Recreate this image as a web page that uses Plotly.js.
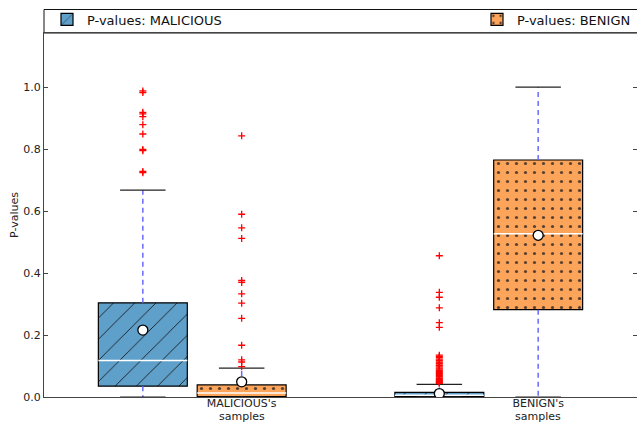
<!DOCTYPE html>
<html><head><meta charset="utf-8">
<script src="https://cdn.plot.ly/plotly-3.0.1.min.js"></script>
<style>body{margin:0;padding:0;background:#fff}#chart{width:637px;height:423px}</style>
</head><body><div id="chart"></div>
<script>
// ---- data ----
const groups = ["MALICIOUS's<br>samples", "BENIGN's<br>samples"];
const seriesNames = ["P-values: MALICIOUS", "P-values: BENIGN"];
// series 1: P-values MALICIOUS, per group
const malQ1 = [0.035, 0.002];
const malMedian = [0.118, 0.006];
const malQ3 = [0.304, 0.015];
const malLow = [0.0, 0.0];
const malHigh = [0.668, 0.041];
const malMean = [0.216, 0.011];
const malOutliers = [
  [0.724, 0.728, 0.795, 0.799, 0.849, 0.879, 0.905, 0.914, 0.919, 0.983, 0.988],
  [0.456, 0.338, 0.322, 0.288, 0.240, 0.225, 0.135, 0.131, 0.127, 0.122, 0.118, 0.113, 0.109,
   0.104, 0.101, 0.097, 0.093, 0.090, 0.086, 0.083, 0.079, 0.076, 0.072, 0.069, 0.066, 0.062,
   0.059, 0.056, 0.053, 0.050, 0.048, 0.046, 0.044]
];
// series 2: P-values BENIGN, per group
const benQ1 = [0.001, 0.282];
const benMedian = [0.013, 0.527];
const benQ3 = [0.039, 0.765];
const benLow = [0.0, 0.0];
const benHigh = [0.093, 1.0];
const benMean = [0.049, 0.522];
const benOutliers = [
  [0.843, 0.590, 0.546, 0.512, 0.376, 0.370, 0.333, 0.303, 0.254, 0.167, 0.120, 0.113, 0.098],
  []
];

// ---- build ----
const series = [
  {name: seriesNames[0], q1: malQ1, med: malMedian, q3: malQ3, lo: malLow, hi: malHigh, mean: malMean, out: malOutliers,
   color: '#5fa0cb', legend: 'legend',
   pattern: {shape: '/', size: 15, solidity: 0.06, fgcolor: '#1a1a1a', bgcolor: '#5fa0cb', fillmode: 'replace'}},
  {name: seriesNames[1], q1: benQ1, med: benMedian, q3: benQ3, lo: benLow, hi: benHigh, mean: benMean, out: benOutliers,
   color: '#fca55a', legend: 'legend2',
   pattern: {shape: '.', size: 9, solidity: 0.1, fgcolor: '#5a4030', bgcolor: '#fca55a', fillmode: 'replace'}}
];
const boxW = 0.9, capHalf = 0.23;
const pos = (g, s) => 3 * g + s + 1;
const traces = [];
series.forEach((s, si) => {
  const xs = groups.map((_, g) => pos(g, si));
  traces.push({type: 'bar', name: s.name, legend: s.legend, x: xs, base: s.q1, y: s.q3.map((v, i) => v - s.q1[i]),
    width: boxW, marker: {color: s.color, pattern: s.pattern, line: {color: '#000', width: 1.2}},
    hoverinfo: 'skip'});
});
const wx = [], wy = [], cx = [], cy = [], mx = [], my = [], ox = [], oy = [], ax = [], ay = [];
series.forEach((s, si) => {
  groups.forEach((_, g) => {
    const x = pos(g, si);
    wx.push(x, x, null, x, x, null); wy.push(s.q3[g], s.hi[g], null, s.q1[g], s.lo[g], null);
    cx.push(x - capHalf, x + capHalf, null, x - capHalf, x + capHalf, null);
    cy.push(s.hi[g], s.hi[g], null, s.lo[g], s.lo[g], null);
    mx.push(x - boxW / 2, x + boxW / 2, null); my.push(s.med[g], s.med[g], null);
    ax.push(x); ay.push(s.mean[g]);
    s.out[g].forEach(v => { ox.push(x); oy.push(v); });
  });
});
traces.push({type: 'scatter', mode: 'lines', x: wx, y: wy, showlegend: false, hoverinfo: 'skip',
  line: {color: '#6a6aff', width: 1.5, dash: '5px,4px'}});
traces.push({type: 'scatter', mode: 'lines', x: mx, y: my, showlegend: false, hoverinfo: 'skip',
  line: {color: '#ffffff', width: 1.5}});
traces.push({type: 'scatter', mode: 'lines', x: cx, y: cy, showlegend: false, hoverinfo: 'skip',
  line: {color: '#222', width: 1.2}});
traces.push({type: 'scatter', mode: 'markers', x: ox, y: oy, showlegend: false, hoverinfo: 'skip',
  marker: {symbol: 'cross-thin', size: 5, line: {color: '#ff0000', width: 1.3}, color: '#ff0000'}});
traces.push({type: 'scatter', mode: 'markers', x: ax, y: ay, showlegend: false, hoverinfo: 'skip',
  marker: {symbol: 'circle', size: 10, color: '#ffffff', line: {color: '#000', width: 1.3}}});

// tick labels: first line on the axis, second line as text right below it
const tickFirst = groups.map(t => t.split('<br>')[0]);
const tickSecond = groups.map(t => t.split('<br>')[1]);
const annotations = tickSecond.map((t, g) => ({text: t, x: pos(g, 1), xref: 'x', y: (397 - 416.5) / 364, yref: 'paper',
  xanchor: 'center', yanchor: 'middle', showarrow: false, font: {size: 11, color: '#222'}}));

const legendCommon = {orientation: 'h', yanchor: 'middle', y: 1 + (33 - 19.5) / 364, xanchor: 'left',
  bgcolor: 'rgba(0,0,0,0)', borderwidth: 0, font: {size: 13, color: '#111'}, itemwidth: 30};
const layout = {
  width: 637, height: 423,
  margin: {l: 44, r: 0, t: 33, b: 26, pad: 0, autoexpand: false},
  paper_bgcolor: '#fff', plot_bgcolor: '#fff',
  font: {family: 'DejaVu Sans', size: 11, color: '#222'},
  barmode: 'overlay', showlegend: true,
  xaxis: {range: [0, 6], tickvals: groups.map((_, g) => pos(g, 1)), ticktext: tickFirst,
    showgrid: false, zeroline: false, showline: true, linecolor: '#444', linewidth: 1, mirror: true,
    ticks: '', ticklabelstandoff: -4, tickfont: {size: 11, color: '#222'}},
  yaxis: {range: [0, 1.175], tickvals: [0, 0.2, 0.4, 0.6, 0.8, 1.0], ticktext: ['0.0', '0.2', '0.4', '0.6', '0.8', '1.0'],
    showgrid: false, zeroline: false, showline: true, linecolor: '#444', linewidth: 1, mirror: 'ticks',
    ticks: 'inside', ticklen: 4, tickcolor: '#444', tickfont: {size: 11, color: '#222'},
    title: {text: 'P-values', font: {size: 11, color: '#222'}, standoff: 2}},
  legend: Object.assign({}, legendCommon, {x: (47 - 44) / 593}),
  legend2: Object.assign({}, legendCommon, {x: (477 - 44) / 593}),
  annotations: annotations,
  shapes: [{type: 'rect', xref: 'paper', yref: 'paper', x0: 0, x1: 1.05, y0: 1.0, y1: 1 + (33 - 9.5) / 364,
    line: {color: '#111', width: 1}, fillcolor: '#fff', layer: 'below'}]
};
Plotly.newPlot('chart', traces, layout, {displayModeBar: false, staticPlot: true});
</script></body></html>
